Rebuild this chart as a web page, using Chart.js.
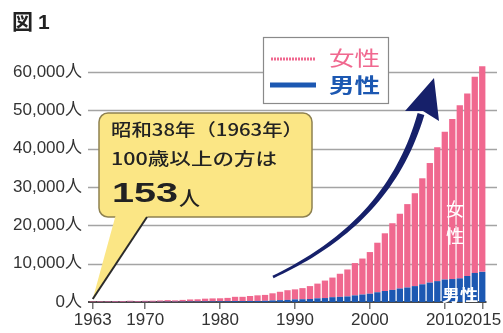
<!DOCTYPE html>
<html>
<head>
<meta charset="utf-8">
<script src="https://cdn.jsdelivr.net/npm/chart.js@4/dist/chart.umd.min.js"></script>
<style>
html, body { margin: 0; padding: 0; background: #fff; }
#wrap { width: 503px; height: 333px; }
</style>
</head>
<body>
<div id="wrap"><canvas id="c"></canvas></div>
<script>
// annees (1963 -> 2015)
const years = ['1963','1964','1965','1966','1967','1968','1969','1970','1971','1972',
  '1973','1974','1975','1976','1977','1978','1979','1980','1981','1982',
  '1983','1984','1985','1986','1987','1988','1989','1990','1991','1992',
  '1993','1994','1995','1996','1997','1998','1999','2000','2001','2002',
  '2003','2004','2005','2006','2007','2008','2009','2010','2011','2012',
  '2013','2014','2015'];
// hommes (男性)
const men = [20, 31, 37, 50, 42, 60, 45, 62, 57, 72,
  87, 77, 102, 125, 128, 146, 165, 174, 204, 232,
  238, 275, 281, 315, 410, 487, 545, 680, 723, 781,
  960, 1031, 1255, 1340, 1448, 1722, 1950, 2158, 2541, 2875,
  3159, 3523, 3779, 4150, 4613, 5063, 5447, 5869, 5994, 6162,
  6791, 7586, 7868];
// femmes (女性)
const women = [133, 160, 161, 202, 213, 267, 207, 248, 282, 333,
  408, 350, 446, 541, 577, 724, 772, 794, 868, 1122,
  1116, 1292, 1459, 1536, 1861, 2181, 2533, 2618, 2902, 3371,
  3842, 4562, 5123, 6033, 7043, 8436, 9396, 10878, 12934, 15059,
  17402, 19515, 21775, 24245, 27682, 31213, 34952, 38580, 41762, 45214,
  47606, 51234, 53700];
const shownYears = ['1963','1970','1980','1990','2000','2010','2015'];
const yTicks = [0, 10000, 20000, 30000, 40000, 50000, 60000];

const PINK = '#f0688f';
const BLUE = '#1c58b2';
const JP = '"Noto Sans CJK JP", sans-serif';
const LAT = '"Liberation Sans", "Noto Sans CJK JP", sans-serif';

// texte etire horizontalement pour avoir la largeur voulue
function fitText(ctx, txt, x, y, w) {
  const m = ctx.measureText(txt).width;
  ctx.save();
  ctx.translate(x, y);
  ctx.scale(w / m, 1);
  ctx.fillText(txt, 0, 0);
  ctx.restore();
}

// lignes de grille horizontales
const gridPlugin = {
  id: 'grid',
  beforeDatasetsDraw(chart) {
    const ctx = chart.ctx, ys = chart.scales.y;
    ctx.save();
    ctx.strokeStyle = '#a4a4a4';
    ctx.lineWidth = 1.5;
    yTicks.forEach(v => {
      if (v === 0) return;
      const py = Math.round(ys.getPixelForValue(v)) + 0.5;
      ctx.beginPath();
      ctx.moveTo(88, py);
      ctx.lineTo(497, py);
      ctx.stroke();
    });
    ctx.restore();
  }
};

// titre, legende, bulle, fleche
const decoPlugin = {
  id: 'deco',
  afterDraw(chart) {
    const ctx = chart.ctx;
    const xs = chart.scales.x, ys = chart.scales.y;
    ctx.save();

    // titre
    ctx.fillStyle = '#222';
    ctx.font = 'bold 21px ' + JP;
    ctx.textBaseline = 'alphabetic';
    ctx.fillText('図', 12, 29);
    ctx.font = 'bold 21px ' + LAT;
    ctx.fillText('1', 38, 29);

    // legende
    ctx.fillStyle = '#fff';
    ctx.fillRect(263, 37, 125, 66);
    ctx.strokeStyle = '#8a8a8a';
    ctx.lineWidth = 1.2;
    ctx.strokeRect(263.5, 37.5, 125, 66);
    ctx.strokeStyle = PINK;
    ctx.lineWidth = 3;
    ctx.setLineDash([2, 1]);
    ctx.beginPath(); ctx.moveTo(271, 59); ctx.lineTo(315, 59); ctx.stroke();
    ctx.setLineDash([]);
    ctx.strokeStyle = BLUE;
    ctx.lineWidth = 5;
    ctx.beginPath(); ctx.moveTo(270, 85); ctx.lineTo(316, 85); ctx.stroke();
    ctx.font = '20px ' + JP;
    ctx.fillStyle = PINK;
    fitText(ctx, '女性', 329, 66, 51);
    ctx.font = 'bold 20px ' + JP;
    ctx.fillStyle = BLUE;
    fitText(ctx, '男性', 329, 93, 51);

    // textes dans les barres
    ctx.fillStyle = '#fff';
    ctx.font = '18px ' + JP;
    ctx.textAlign = 'center';
    ctx.fillText('女', 455, 216);
    ctx.fillText('性', 455, 243);
    ctx.font = 'bold 16px ' + JP;
    ctx.textAlign = 'left';
    fitText(ctx, '男性', 442, 301, 36);

    // fleche courbe
    const P0 = [273, 277], P1 = [338, 246], P2 = [396, 200], P3 = [421, 114];
    const pts = [];
    for (let i = 0; i <= 40; i++) {
      const t = i / 40, u = 1 - t;
      const x = u*u*u*P0[0] + 3*u*u*t*P1[0] + 3*u*t*t*P2[0] + t*t*t*P3[0];
      const y = u*u*u*P0[1] + 3*u*u*t*P1[1] + 3*u*t*t*P2[1] + t*t*t*P3[1];
      pts.push([x, y, 1.3 + 2.2 * t]);
    }
    const left = [], right = [];
    for (let i = 0; i < pts.length; i++) {
      const a = pts[Math.max(0, i - 1)], b = pts[Math.min(pts.length - 1, i + 1)];
      let dx = b[0] - a[0], dy = b[1] - a[1];
      const l = Math.hypot(dx, dy); dx /= l; dy /= l;
      const w = pts[i][2];
      left.push([pts[i][0] - dy * w, pts[i][1] + dx * w]);
      right.push([pts[i][0] + dy * w, pts[i][1] - dx * w]);
    }
    ctx.fillStyle = '#16206a';
    ctx.beginPath();
    ctx.moveTo(left[0][0], left[0][1]);
    left.forEach(p => ctx.lineTo(p[0], p[1]));
    right.reverse().forEach(p => ctx.lineTo(p[0], p[1]));
    ctx.closePath();
    ctx.fill();
    ctx.beginPath();
    ctx.moveTo(434, 78);
    ctx.lineTo(439, 121);
    ctx.lineTo(423, 111);
    ctx.lineTo(405, 111);
    ctx.closePath();
    ctx.fill();

    // bulle jaune
    const tipX = xs.getPixelForValue(0), tipY = ys.getPixelForValue(0) - 3;
    ctx.fillStyle = '#fbe685';
    ctx.strokeStyle = '#8e8150';
    ctx.lineWidth = 1.5;
    ctx.beginPath();
    ctx.roundRect(99, 113, 213, 104, 9);
    ctx.fill();
    ctx.stroke();
    ctx.beginPath();
    ctx.moveTo(116, 214);
    ctx.lineTo(tipX, tipY);
    ctx.lineTo(149, 214);
    ctx.closePath();
    ctx.fill();
    ctx.strokeStyle = '#2a2a2a';
    ctx.lineWidth = 2;
    ctx.beginPath();
    ctx.moveTo(tipX, tipY);
    ctx.lineTo(147, 217);
    ctx.stroke();

    ctx.fillStyle = '#222';
    ctx.font = '500 17px ' + JP;
    fitText(ctx, '昭和38年（1963年）', 111, 136, 192);
    fitText(ctx, '100歳以上の方は', 111, 165, 166);
    ctx.font = 'bold 28px ' + LAT;
    fitText(ctx, '153', 112, 202, 66);
    ctx.font = '500 20px ' + JP;
    fitText(ctx, '人', 179, 206, 21);

    ctx.restore();
  }
};

new Chart(document.getElementById('c'), {
  type: 'bar',
  data: {
    labels: years,
    datasets: [
      { label: '男性', data: men, backgroundColor: BLUE, barPercentage: 1, categoryPercentage: 0.84 },
      { label: '女性', data: women, backgroundColor: PINK, barPercentage: 1, categoryPercentage: 0.84 }
    ]
  },
  options: {
    responsive: true,
    maintainAspectRatio: false,
    animation: false,
    layout: { padding: { top: 53, right: 17, bottom: 0, left: 0 } },
    plugins: { legend: { display: false }, tooltip: { enabled: false } },
    scales: {
      x: {
        stacked: true,
        afterFit(s) { s.height = 31; },
        border: { display: true, color: '#4a4a4a', width: 2 },
        grid: {
          offset: false,
          drawOnChartArea: false,
          drawTicks: true,
          tickLength: 7,
          lineWidth: 1.5,
          color: c => shownYears.includes(years[c.index]) ? '#777' : 'rgba(0,0,0,0)'
        },
        ticks: {
          autoSkip: false,
          maxRotation: 0,
          padding: 1,
          color: '#333',
          font: { family: LAT, size: 17 },
          callback: (v, i) => shownYears.includes(years[i]) ? years[i] : ''
        }
      },
      y: {
        stacked: true,
        min: 0,
        max: 65000,
        afterFit(s) { s.width = 89; },
        afterBuildTicks(s) { s.ticks = yTicks.map(v => ({ value: v })); },
        border: { display: false },
        grid: { display: false, drawTicks: false },
        ticks: {
          padding: 7,
          color: '#333',
          font: { family: LAT, size: 17 },
          callback: v => v.toLocaleString('en-US') + '人'
        }
      }
    }
  },
  plugins: [gridPlugin, decoPlugin]
});
</script>
</body>
</html>
